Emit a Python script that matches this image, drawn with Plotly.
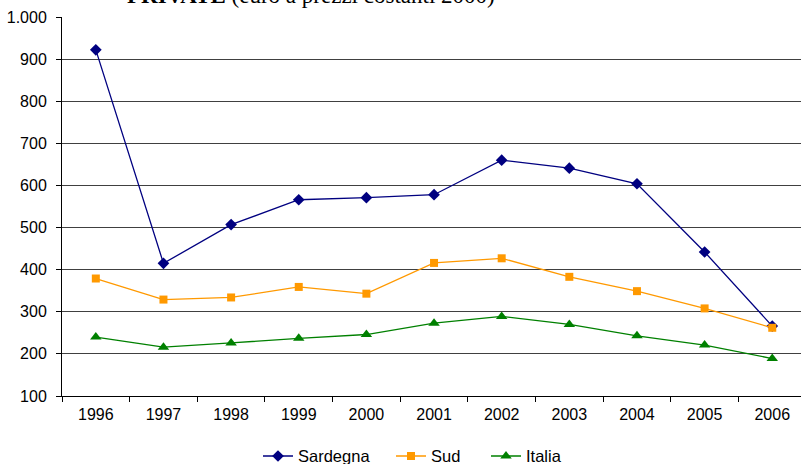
import plotly.graph_objects as go

years = ["1996", "1997", "1998", "1999", "2000", "2001", "2002", "2003", "2004", "2005", "2006"]
sardegna = [922, 415, 507, 566, 571, 578, 660, 641, 604, 442, 266]
sud = [379, 329, 334, 359, 343, 416, 427, 383, 349, 308, 262]
italia = [240, 216, 226, 237, 246, 273, 289, 270, 243, 221, 189]
y_ticks = [100, 200, 300, 400, 500, 600, 700, 800, 900, 1000]

font_sans = "Liberation Sans, Arial, sans-serif"
L, PW = 62, 739

def px2paper(p):
    return (p - L) / PW

fig = go.Figure()
fig.add_trace(go.Scatter(x=years, y=sardegna, name="Sardegna", mode="lines+markers",
                         line=dict(color="#000080", width=1.3), legend="legend",
                         marker=dict(symbol="diamond", size=9, color="#000080")))
fig.add_trace(go.Scatter(x=years, y=sud, name="Sud", mode="lines+markers",
                         line=dict(color="#FF9900", width=1.3), legend="legend2",
                         marker=dict(symbol="square", size=8, color="#FF9900")))
fig.add_trace(go.Scatter(x=years, y=italia, name="Italia", mode="lines+markers",
                         line=dict(color="#008000", width=1.3), legend="legend3",
                         marker=dict(symbol="triangle-up", size=10, color="#008000")))

fig.add_annotation(text="<b>PRIVATE</b> (euro a prezzi costanti 2000)",
                   xref="paper", yref="paper", x=0.337, y=1.056,
                   xanchor="center", yanchor="middle", showarrow=False,
                   font=dict(family="Liberation Serif, Times New Roman, serif", size=23, color="black"))

leg_common = dict(orientation="h", xanchor="left", y=-0.159, yanchor="middle",
                  font=dict(family=font_sans, size=16.5, color="black"),
                  bgcolor="rgba(0,0,0,0)", itemwidth=30)

fig.update_layout(
    width=801, height=464,
    margin=dict(l=L, r=0, t=17, b=68, pad=0, autoexpand=False),
    paper_bgcolor="white", plot_bgcolor="white",
    separators=",.",
    font=dict(family=font_sans, size=16, color="black"),
    showlegend=True,
    legend=dict(x=px2paper(258), **leg_common),
    legend2=dict(x=px2paper(391), **leg_common),
    legend3=dict(x=px2paper(486), **leg_common),
)
fig.update_xaxes(type="category", range=[-0.5, 10.425], showgrid=False, automargin=False,
                 showline=True, linecolor="black", linewidth=1,
                 ticks="outside", tickson="boundaries", ticklen=5, tickcolor="black",
                 tickfont=dict(size=16), ticklabelstandoff=4)
fig.update_yaxes(range=[100, 1000], tickvals=y_ticks, tickformat=",.0f", automargin=False,
                 showgrid=True, gridcolor="#404040", gridwidth=1,
                 showline=True, linecolor="black", linewidth=1, zeroline=False,
                 ticks="outside", ticklen=5, tickcolor="black",
                 tickfont=dict(size=16), ticklabelstandoff=6)

fig.write_html("out.html", config={"displayModeBar": False},
               post_script="document.body.style.margin='0';document.body.style.overflow='hidden';")
